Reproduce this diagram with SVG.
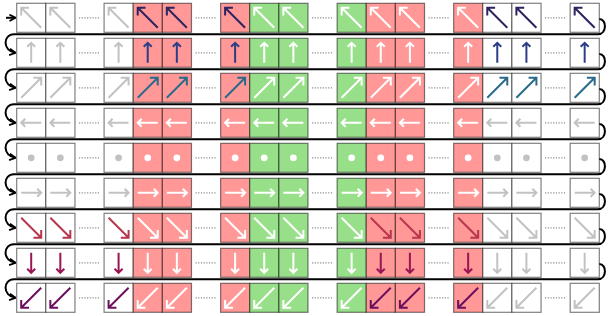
<svg xmlns="http://www.w3.org/2000/svg" xmlns:xlink="http://www.w3.org/1999/xlink" width="610" height="316" viewBox="0 0 610 316">
<style>
rect{stroke:#000;stroke-opacity:.5;stroke-width:1.2}
.w{fill:#fff}.r{fill:#ff9896}.g{fill:#98df8a}
.gy{color:#c2c2c2}.wh{color:#fff}
.k1{color:#2d2360}.k2{color:#2c3f86}.k3{color:#2a6a8b}.k7{color:#b8364e}.k8{color:#9a1554}.k9{color:#6b105e}
.dots{fill:none;stroke:#8c8c8c;stroke-width:1.2;stroke-dasharray:1.2 1.5}
.conn{fill:none;stroke:#000;stroke-width:2}
</style>
<defs>
<marker id="ah" viewBox="0 0 10 10" refX="9" refY="5" markerWidth="8" markerHeight="8" orient="auto" markerUnits="userSpaceOnUse"><path d="M1.5 1L9 5L1.5 9" fill="none" stroke="#000" stroke-width="2.2"/></marker>
<path id="a1" d="M24.5 24.5L4.5 4.5M12.3 4.5H4.5V12.3" fill="none" stroke="currentColor" stroke-width="2"/>
<path id="a2" d="M14.5 24.5V4.5M10.5 8.5L14.5 4.5L18.5 8.5" fill="none" stroke="currentColor" stroke-width="2"/>
<path id="a3" d="M4.5 24.5L24.5 4.5M16.7 4.5H24.5V12.3" fill="none" stroke="currentColor" stroke-width="2"/>
<path id="a4" d="M24.5 14.5H4.5M8.5 10.5L4.5 14.5L8.5 18.5" fill="none" stroke="currentColor" stroke-width="2"/>
<circle id="a5" cx="14.5" cy="14.5" r="3.4" fill="currentColor"/>
<path id="a6" d="M4.5 14.5H24.5M20.5 10.5L24.5 14.5L20.5 18.5" fill="none" stroke="currentColor" stroke-width="2"/>
<path id="a7" d="M4.5 4.5L24.5 24.5M24.5 16.7V24.5H16.7" fill="none" stroke="currentColor" stroke-width="2"/>
<path id="a8" d="M14.5 4.5V24.5M10.5 20.5L14.5 24.5L18.5 20.5" fill="none" stroke="currentColor" stroke-width="2"/>
<path id="a9" d="M24.5 4.5L4.5 24.5M4.5 16.7V24.5H12.3" fill="none" stroke="currentColor" stroke-width="2"/>
</defs>

<g id="row1" transform="translate(0 3.3)">
<g id="r1c1" transform="translate(16.7)"><rect class="w" width="29.13" height="29"/><use href="#a1" class="gy"/></g>
<g id="r1c2" transform="translate(45.83)"><rect class="w" width="29.13" height="29"/><use href="#a1" class="gy"/></g>
<g id="r1c3" transform="translate(104.09)"><rect class="w" width="29.13" height="29"/><use href="#a1" class="gy"/></g>
<g id="r1c4" transform="translate(133.22)"><rect class="r" width="29.13" height="29"/><use href="#a1" class="k1"/></g>
<g id="r1c5" transform="translate(162.35)"><rect class="r" width="29.13" height="29"/><use href="#a1" class="k1"/></g>
<g id="r1c6" transform="translate(220.61)"><rect class="r" width="29.13" height="29"/><use href="#a1" class="k1"/></g>
<g id="r1c7" transform="translate(249.74)"><rect class="g" width="29.13" height="29"/><use href="#a1" class="wh"/></g>
<g id="r1c8" transform="translate(278.87)"><rect class="g" width="29.13" height="29"/><use href="#a1" class="wh"/></g>
<g id="r1c9" transform="translate(337.13)"><rect class="g" width="29.13" height="29"/><use href="#a1" class="wh"/></g>
<g id="r1c10" transform="translate(366.26)"><rect class="r" width="29.13" height="29"/><use href="#a1" class="wh"/></g>
<g id="r1c11" transform="translate(395.39)"><rect class="r" width="29.13" height="29"/><use href="#a1" class="wh"/></g>
<g id="r1c12" transform="translate(453.65)"><rect class="r" width="29.13" height="29"/><use href="#a1" class="wh"/></g>
<g id="r1c13" transform="translate(482.78)"><rect class="w" width="29.13" height="29"/><use href="#a1" class="k1"/></g>
<g id="r1c14" transform="translate(511.91)"><rect class="w" width="29.13" height="29"/><use href="#a1" class="k1"/></g>
<g id="r1c15" transform="translate(570.17)"><rect class="w" width="29.13" height="29"/><use href="#a1" class="k1"/></g>
</g>

<g id="row2" transform="translate(0 38.3)">
<g id="r2c1" transform="translate(16.7)"><rect class="w" width="29.13" height="29"/><use href="#a2" class="gy"/></g>
<g id="r2c2" transform="translate(45.83)"><rect class="w" width="29.13" height="29"/><use href="#a2" class="gy"/></g>
<g id="r2c3" transform="translate(104.09)"><rect class="w" width="29.13" height="29"/><use href="#a2" class="gy"/></g>
<g id="r2c4" transform="translate(133.22)"><rect class="r" width="29.13" height="29"/><use href="#a2" class="k2"/></g>
<g id="r2c5" transform="translate(162.35)"><rect class="r" width="29.13" height="29"/><use href="#a2" class="k2"/></g>
<g id="r2c6" transform="translate(220.61)"><rect class="r" width="29.13" height="29"/><use href="#a2" class="k2"/></g>
<g id="r2c7" transform="translate(249.74)"><rect class="g" width="29.13" height="29"/><use href="#a2" class="wh"/></g>
<g id="r2c8" transform="translate(278.87)"><rect class="g" width="29.13" height="29"/><use href="#a2" class="wh"/></g>
<g id="r2c9" transform="translate(337.13)"><rect class="g" width="29.13" height="29"/><use href="#a2" class="wh"/></g>
<g id="r2c10" transform="translate(366.26)"><rect class="r" width="29.13" height="29"/><use href="#a2" class="wh"/></g>
<g id="r2c11" transform="translate(395.39)"><rect class="r" width="29.13" height="29"/><use href="#a2" class="wh"/></g>
<g id="r2c12" transform="translate(453.65)"><rect class="r" width="29.13" height="29"/><use href="#a2" class="wh"/></g>
<g id="r2c13" transform="translate(482.78)"><rect class="w" width="29.13" height="29"/><use href="#a2" class="k2"/></g>
<g id="r2c14" transform="translate(511.91)"><rect class="w" width="29.13" height="29"/><use href="#a2" class="k2"/></g>
<g id="r2c15" transform="translate(570.17)"><rect class="w" width="29.13" height="29"/><use href="#a2" class="k2"/></g>
</g>

<g id="row3" transform="translate(0 73.3)">
<g id="r3c1" transform="translate(16.7)"><rect class="w" width="29.13" height="29"/><use href="#a3" class="gy"/></g>
<g id="r3c2" transform="translate(45.83)"><rect class="w" width="29.13" height="29"/><use href="#a3" class="gy"/></g>
<g id="r3c3" transform="translate(104.09)"><rect class="w" width="29.13" height="29"/><use href="#a3" class="gy"/></g>
<g id="r3c4" transform="translate(133.22)"><rect class="r" width="29.13" height="29"/><use href="#a3" class="k3"/></g>
<g id="r3c5" transform="translate(162.35)"><rect class="r" width="29.13" height="29"/><use href="#a3" class="k3"/></g>
<g id="r3c6" transform="translate(220.61)"><rect class="r" width="29.13" height="29"/><use href="#a3" class="k3"/></g>
<g id="r3c7" transform="translate(249.74)"><rect class="g" width="29.13" height="29"/><use href="#a3" class="wh"/></g>
<g id="r3c8" transform="translate(278.87)"><rect class="g" width="29.13" height="29"/><use href="#a3" class="wh"/></g>
<g id="r3c9" transform="translate(337.13)"><rect class="g" width="29.13" height="29"/><use href="#a3" class="wh"/></g>
<g id="r3c10" transform="translate(366.26)"><rect class="r" width="29.13" height="29"/><use href="#a3" class="wh"/></g>
<g id="r3c11" transform="translate(395.39)"><rect class="r" width="29.13" height="29"/><use href="#a3" class="wh"/></g>
<g id="r3c12" transform="translate(453.65)"><rect class="r" width="29.13" height="29"/><use href="#a3" class="wh"/></g>
<g id="r3c13" transform="translate(482.78)"><rect class="w" width="29.13" height="29"/><use href="#a3" class="k3"/></g>
<g id="r3c14" transform="translate(511.91)"><rect class="w" width="29.13" height="29"/><use href="#a3" class="k3"/></g>
<g id="r3c15" transform="translate(570.17)"><rect class="w" width="29.13" height="29"/><use href="#a3" class="k3"/></g>
</g>

<g id="row4" transform="translate(0 108.3)">
<g id="r4c1" transform="translate(16.7)"><rect class="w" width="29.13" height="29"/><use href="#a4" class="gy"/></g>
<g id="r4c2" transform="translate(45.83)"><rect class="w" width="29.13" height="29"/><use href="#a4" class="gy"/></g>
<g id="r4c3" transform="translate(104.09)"><rect class="w" width="29.13" height="29"/><use href="#a4" class="gy"/></g>
<g id="r4c4" transform="translate(133.22)"><rect class="r" width="29.13" height="29"/><use href="#a4" class="wh"/></g>
<g id="r4c5" transform="translate(162.35)"><rect class="r" width="29.13" height="29"/><use href="#a4" class="wh"/></g>
<g id="r4c6" transform="translate(220.61)"><rect class="r" width="29.13" height="29"/><use href="#a4" class="wh"/></g>
<g id="r4c7" transform="translate(249.74)"><rect class="g" width="29.13" height="29"/><use href="#a4" class="wh"/></g>
<g id="r4c8" transform="translate(278.87)"><rect class="g" width="29.13" height="29"/><use href="#a4" class="wh"/></g>
<g id="r4c9" transform="translate(337.13)"><rect class="g" width="29.13" height="29"/><use href="#a4" class="wh"/></g>
<g id="r4c10" transform="translate(366.26)"><rect class="r" width="29.13" height="29"/><use href="#a4" class="wh"/></g>
<g id="r4c11" transform="translate(395.39)"><rect class="r" width="29.13" height="29"/><use href="#a4" class="wh"/></g>
<g id="r4c12" transform="translate(453.65)"><rect class="r" width="29.13" height="29"/><use href="#a4" class="wh"/></g>
<g id="r4c13" transform="translate(482.78)"><rect class="w" width="29.13" height="29"/><use href="#a4" class="gy"/></g>
<g id="r4c14" transform="translate(511.91)"><rect class="w" width="29.13" height="29"/><use href="#a4" class="gy"/></g>
<g id="r4c15" transform="translate(570.17)"><rect class="w" width="29.13" height="29"/><use href="#a4" class="gy"/></g>
</g>

<g id="row5" transform="translate(0 143.3)">
<g id="r5c1" transform="translate(16.7)"><rect class="w" width="29.13" height="29"/><use href="#a5" class="gy"/></g>
<g id="r5c2" transform="translate(45.83)"><rect class="w" width="29.13" height="29"/><use href="#a5" class="gy"/></g>
<g id="r5c3" transform="translate(104.09)"><rect class="w" width="29.13" height="29"/><use href="#a5" class="gy"/></g>
<g id="r5c4" transform="translate(133.22)"><rect class="r" width="29.13" height="29"/><use href="#a5" class="wh"/></g>
<g id="r5c5" transform="translate(162.35)"><rect class="r" width="29.13" height="29"/><use href="#a5" class="wh"/></g>
<g id="r5c6" transform="translate(220.61)"><rect class="r" width="29.13" height="29"/><use href="#a5" class="wh"/></g>
<g id="r5c7" transform="translate(249.74)"><rect class="g" width="29.13" height="29"/><use href="#a5" class="wh"/></g>
<g id="r5c8" transform="translate(278.87)"><rect class="g" width="29.13" height="29"/><use href="#a5" class="wh"/></g>
<g id="r5c9" transform="translate(337.13)"><rect class="g" width="29.13" height="29"/><use href="#a5" class="wh"/></g>
<g id="r5c10" transform="translate(366.26)"><rect class="r" width="29.13" height="29"/><use href="#a5" class="wh"/></g>
<g id="r5c11" transform="translate(395.39)"><rect class="r" width="29.13" height="29"/><use href="#a5" class="wh"/></g>
<g id="r5c12" transform="translate(453.65)"><rect class="r" width="29.13" height="29"/><use href="#a5" class="wh"/></g>
<g id="r5c13" transform="translate(482.78)"><rect class="w" width="29.13" height="29"/><use href="#a5" class="gy"/></g>
<g id="r5c14" transform="translate(511.91)"><rect class="w" width="29.13" height="29"/><use href="#a5" class="gy"/></g>
<g id="r5c15" transform="translate(570.17)"><rect class="w" width="29.13" height="29"/><use href="#a5" class="gy"/></g>
</g>

<g id="row6" transform="translate(0 178.3)">
<g id="r6c1" transform="translate(16.7)"><rect class="w" width="29.13" height="29"/><use href="#a6" class="gy"/></g>
<g id="r6c2" transform="translate(45.83)"><rect class="w" width="29.13" height="29"/><use href="#a6" class="gy"/></g>
<g id="r6c3" transform="translate(104.09)"><rect class="w" width="29.13" height="29"/><use href="#a6" class="gy"/></g>
<g id="r6c4" transform="translate(133.22)"><rect class="r" width="29.13" height="29"/><use href="#a6" class="wh"/></g>
<g id="r6c5" transform="translate(162.35)"><rect class="r" width="29.13" height="29"/><use href="#a6" class="wh"/></g>
<g id="r6c6" transform="translate(220.61)"><rect class="r" width="29.13" height="29"/><use href="#a6" class="wh"/></g>
<g id="r6c7" transform="translate(249.74)"><rect class="g" width="29.13" height="29"/><use href="#a6" class="wh"/></g>
<g id="r6c8" transform="translate(278.87)"><rect class="g" width="29.13" height="29"/><use href="#a6" class="wh"/></g>
<g id="r6c9" transform="translate(337.13)"><rect class="g" width="29.13" height="29"/><use href="#a6" class="wh"/></g>
<g id="r6c10" transform="translate(366.26)"><rect class="r" width="29.13" height="29"/><use href="#a6" class="wh"/></g>
<g id="r6c11" transform="translate(395.39)"><rect class="r" width="29.13" height="29"/><use href="#a6" class="wh"/></g>
<g id="r6c12" transform="translate(453.65)"><rect class="r" width="29.13" height="29"/><use href="#a6" class="wh"/></g>
<g id="r6c13" transform="translate(482.78)"><rect class="w" width="29.13" height="29"/><use href="#a6" class="gy"/></g>
<g id="r6c14" transform="translate(511.91)"><rect class="w" width="29.13" height="29"/><use href="#a6" class="gy"/></g>
<g id="r6c15" transform="translate(570.17)"><rect class="w" width="29.13" height="29"/><use href="#a6" class="gy"/></g>
</g>

<g id="row7" transform="translate(0 213.3)">
<g id="r7c1" transform="translate(16.7)"><rect class="w" width="29.13" height="29"/><use href="#a7" class="k7"/></g>
<g id="r7c2" transform="translate(45.83)"><rect class="w" width="29.13" height="29"/><use href="#a7" class="k7"/></g>
<g id="r7c3" transform="translate(104.09)"><rect class="w" width="29.13" height="29"/><use href="#a7" class="k7"/></g>
<g id="r7c4" transform="translate(133.22)"><rect class="r" width="29.13" height="29"/><use href="#a7" class="wh"/></g>
<g id="r7c5" transform="translate(162.35)"><rect class="r" width="29.13" height="29"/><use href="#a7" class="wh"/></g>
<g id="r7c6" transform="translate(220.61)"><rect class="r" width="29.13" height="29"/><use href="#a7" class="wh"/></g>
<g id="r7c7" transform="translate(249.74)"><rect class="g" width="29.13" height="29"/><use href="#a7" class="wh"/></g>
<g id="r7c8" transform="translate(278.87)"><rect class="g" width="29.13" height="29"/><use href="#a7" class="wh"/></g>
<g id="r7c9" transform="translate(337.13)"><rect class="g" width="29.13" height="29"/><use href="#a7" class="wh"/></g>
<g id="r7c10" transform="translate(366.26)"><rect class="r" width="29.13" height="29"/><use href="#a7" class="k7"/></g>
<g id="r7c11" transform="translate(395.39)"><rect class="r" width="29.13" height="29"/><use href="#a7" class="k7"/></g>
<g id="r7c12" transform="translate(453.65)"><rect class="r" width="29.13" height="29"/><use href="#a7" class="k7"/></g>
<g id="r7c13" transform="translate(482.78)"><rect class="w" width="29.13" height="29"/><use href="#a7" class="gy"/></g>
<g id="r7c14" transform="translate(511.91)"><rect class="w" width="29.13" height="29"/><use href="#a7" class="gy"/></g>
<g id="r7c15" transform="translate(570.17)"><rect class="w" width="29.13" height="29"/><use href="#a7" class="gy"/></g>
</g>

<g id="row8" transform="translate(0 248.3)">
<g id="r8c1" transform="translate(16.7)"><rect class="w" width="29.13" height="29"/><use href="#a8" class="k8"/></g>
<g id="r8c2" transform="translate(45.83)"><rect class="w" width="29.13" height="29"/><use href="#a8" class="k8"/></g>
<g id="r8c3" transform="translate(104.09)"><rect class="w" width="29.13" height="29"/><use href="#a8" class="k8"/></g>
<g id="r8c4" transform="translate(133.22)"><rect class="r" width="29.13" height="29"/><use href="#a8" class="wh"/></g>
<g id="r8c5" transform="translate(162.35)"><rect class="r" width="29.13" height="29"/><use href="#a8" class="wh"/></g>
<g id="r8c6" transform="translate(220.61)"><rect class="r" width="29.13" height="29"/><use href="#a8" class="wh"/></g>
<g id="r8c7" transform="translate(249.74)"><rect class="g" width="29.13" height="29"/><use href="#a8" class="wh"/></g>
<g id="r8c8" transform="translate(278.87)"><rect class="g" width="29.13" height="29"/><use href="#a8" class="wh"/></g>
<g id="r8c9" transform="translate(337.13)"><rect class="g" width="29.13" height="29"/><use href="#a8" class="wh"/></g>
<g id="r8c10" transform="translate(366.26)"><rect class="r" width="29.13" height="29"/><use href="#a8" class="k8"/></g>
<g id="r8c11" transform="translate(395.39)"><rect class="r" width="29.13" height="29"/><use href="#a8" class="k8"/></g>
<g id="r8c12" transform="translate(453.65)"><rect class="r" width="29.13" height="29"/><use href="#a8" class="k8"/></g>
<g id="r8c13" transform="translate(482.78)"><rect class="w" width="29.13" height="29"/><use href="#a8" class="gy"/></g>
<g id="r8c14" transform="translate(511.91)"><rect class="w" width="29.13" height="29"/><use href="#a8" class="gy"/></g>
<g id="r8c15" transform="translate(570.17)"><rect class="w" width="29.13" height="29"/><use href="#a8" class="gy"/></g>
</g>

<g id="row9" transform="translate(0 283.3)">
<g id="r9c1" transform="translate(16.7)"><rect class="w" width="29.13" height="29"/><use href="#a9" class="k9"/></g>
<g id="r9c2" transform="translate(45.83)"><rect class="w" width="29.13" height="29"/><use href="#a9" class="k9"/></g>
<g id="r9c3" transform="translate(104.09)"><rect class="w" width="29.13" height="29"/><use href="#a9" class="k9"/></g>
<g id="r9c4" transform="translate(133.22)"><rect class="r" width="29.13" height="29"/><use href="#a9" class="wh"/></g>
<g id="r9c5" transform="translate(162.35)"><rect class="r" width="29.13" height="29"/><use href="#a9" class="wh"/></g>
<g id="r9c6" transform="translate(220.61)"><rect class="r" width="29.13" height="29"/><use href="#a9" class="wh"/></g>
<g id="r9c7" transform="translate(249.74)"><rect class="g" width="29.13" height="29"/><use href="#a9" class="wh"/></g>
<g id="r9c8" transform="translate(278.87)"><rect class="g" width="29.13" height="29"/><use href="#a9" class="wh"/></g>
<g id="r9c9" transform="translate(337.13)"><rect class="g" width="29.13" height="29"/><use href="#a9" class="wh"/></g>
<g id="r9c10" transform="translate(366.26)"><rect class="r" width="29.13" height="29"/><use href="#a9" class="k9"/></g>
<g id="r9c11" transform="translate(395.39)"><rect class="r" width="29.13" height="29"/><use href="#a9" class="k9"/></g>
<g id="r9c12" transform="translate(453.65)"><rect class="r" width="29.13" height="29"/><use href="#a9" class="k9"/></g>
<g id="r9c13" transform="translate(482.78)"><rect class="w" width="29.13" height="29"/><use href="#a9" class="gy"/></g>
<g id="r9c14" transform="translate(511.91)"><rect class="w" width="29.13" height="29"/><use href="#a9" class="gy"/></g>
<g id="r9c15" transform="translate(570.17)"><rect class="w" width="29.13" height="29"/><use href="#a9" class="gy"/></g>
</g>

<g id="ellipses">
<path class="dots" d="M78.96 17.8H99.96M195.48 17.8H216.48M312 17.8H333M428.52 17.8H449.52M545.04 17.8H566.04
M78.96 52.8H99.96M195.48 52.8H216.48M312 52.8H333M428.52 52.8H449.52M545.04 52.8H566.04
M78.96 87.8H99.96M195.48 87.8H216.48M312 87.8H333M428.52 87.8H449.52M545.04 87.8H566.04
M78.96 122.8H99.96M195.48 122.8H216.48M312 122.8H333M428.52 122.8H449.52M545.04 122.8H566.04
M78.96 157.8H99.96M195.48 157.8H216.48M312 157.8H333M428.52 157.8H449.52M545.04 157.8H566.04
M78.96 192.8H99.96M195.48 192.8H216.48M312 192.8H333M428.52 192.8H449.52M545.04 192.8H566.04
M78.96 227.8H99.96M195.48 227.8H216.48M312 227.8H333M428.52 227.8H449.52M545.04 227.8H566.04
M78.96 262.8H99.96M195.48 262.8H216.48M312 262.8H333M428.52 262.8H449.52M545.04 262.8H566.04
M78.96 297.8H99.96M195.48 297.8H216.48M312 297.8H333M428.52 297.8H449.52M545.04 297.8H566.04"/>
</g>

<g id="connectors" class="conn" marker-end="url(#ah)">
<path d="M6 17.8H15.5"/>
<path d="M599.3 19C607 19 607 34.3 598 34.3H14C3 34.3 2 50.8 15.5 52.8"/>
<path d="M599.3 54C607 54 607 69.3 598 69.3H14C3 69.3 2 85.8 15.5 87.8"/>
<path d="M599.3 89C607 89 607 104.3 598 104.3H14C3 104.3 2 120.8 15.5 122.8"/>
<path d="M599.3 124C607 124 607 139.3 598 139.3H14C3 139.3 2 155.8 15.5 157.8"/>
<path d="M599.3 159C607 159 607 174.3 598 174.3H14C3 174.3 2 190.8 15.5 192.8"/>
<path d="M599.3 194C607 194 607 209.3 598 209.3H14C3 209.3 2 225.8 15.5 227.8"/>
<path d="M599.3 229C607 229 607 244.3 598 244.3H14C3 244.3 2 260.8 15.5 262.8"/>
<path d="M599.3 264C607 264 607 279.3 598 279.3H14C3 279.3 2 295.8 15.5 297.8"/>
</g>
</svg>
